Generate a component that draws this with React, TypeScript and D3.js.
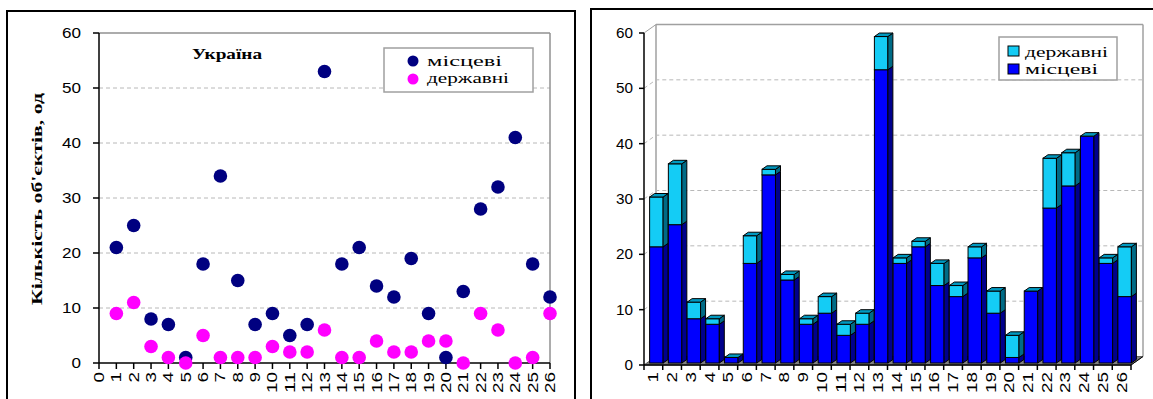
import React from "react";
import * as d3 from "d3";

const categories = Array.from({ length: 26 }, (_, i) => String(i + 1));
const localVals = [21, 25, 8, 7, 1, 18, 34, 15, 7, 9, 5, 7, 53, 18, 21, 14, 12, 19, 9, 1, 13, 28, 32, 41, 18, 12];
const stateVals = [9, 11, 3, 1, 0, 5, 1, 1, 1, 3, 2, 2, 6, 1, 1, 4, 2, 2, 4, 4, 0, 9, 6, 0, 1, 9];
const yTicks = [0, 10, 20, 30, 40, 50, 60];
const xTicksLeft = d3.range(0, 27);
const seriesLocal = "місцеві";
const seriesState = "державні";
const leftTitle = "Україна";
const yTitle = "Кількість об'єктів, од";

const SERIF = "'Liberation Serif', 'DejaVu Serif', serif";
const SANS = "'Liberation Sans', Arial, sans-serif";

function LeftChart() {
  const x = d3.scaleLinear().domain([0, 26]).range([99, 550]);
  const y = d3.scaleLinear().domain([0, 60]).range([363, 33]);
  return (
    <g>
      <rect x={7} y={11} width={568} height={400} fill="#fff" stroke="#000" strokeWidth={2} />
      {yTicks.filter((t) => t > 0 && t < 60).map((t) => (
        <line key={t} x1={x(0)} x2={x(26)} y1={y(t)} y2={y(t)} stroke="#b8b8b8" strokeDasharray="4,3" />
      ))}
      <line x1={x(0)} x2={x(26)} y1={y(60)} y2={y(60)} stroke="#909090" strokeWidth={1.5} />
      <line x1={x(26)} x2={x(26)} y1={y(60)} y2={y(0)} stroke="#909090" strokeWidth={1.5} />
      <line x1={x(0)} x2={x(0)} y1={y(60)} y2={y(0)} stroke="#000" strokeWidth={1.5} />
      <line x1={x(0)} x2={x(26)} y1={y(0)} y2={y(0)} stroke="#000" strokeWidth={1.5} />
      {yTicks.map((t) => (
        <g key={t}>
          <line x1={x(0) - 6} x2={x(0)} y1={y(t)} y2={y(t)} stroke="#000" strokeWidth={1.5} />
          <text x={81} y={y(t) + 5} textAnchor="end" fontFamily={SANS} fontSize={14}
            textLength={String(t).length * 9.5} lengthAdjust="spacingAndGlyphs" fill="#000">{t}</text>
        </g>
      ))}
      {xTicksLeft.map((t) => (
        <g key={t}>
          <line x1={x(t)} x2={x(t)} y1={y(0)} y2={y(0) + 6} stroke="#000" strokeWidth={1.5} />
          <text transform={`translate(${x(t) + 5},372) rotate(-90)`} textAnchor="end" fontFamily={SANS}
            fontSize={14} textLength={String(t).length * 10.5} lengthAdjust="spacingAndGlyphs" fill="#000">{t}</text>
        </g>
      ))}
      <text transform="translate(42,199) rotate(-90)" textAnchor="middle" fontFamily={SERIF} fontWeight="bold"
        fontSize={15} textLength={212} lengthAdjust="spacingAndGlyphs" fill="#000">{yTitle}</text>
      <text x={192} y={59} fontFamily={SERIF} fontWeight="bold" fontSize={14} textLength={70}
        lengthAdjust="spacingAndGlyphs" fill="#000">{leftTitle}</text>
      {localVals.map((v, i) => (
        <circle key={"l" + i} cx={x(i + 1)} cy={y(v)} r={6.8} fill="#000080" />
      ))}
      {stateVals.map((v, i) => (
        <circle key={"s" + i} cx={x(i + 1)} cy={y(v)} r={6.8} fill="#ff00ff" />
      ))}
      <rect x={384} y={48} width={149} height={44} fill="#fff" stroke="#a0a0a0" strokeWidth={1.5} />
      <circle cx={413} cy={61} r={5.5} fill="#000080" />
      <circle cx={413} cy={79} r={5.5} fill="#ff00ff" />
      <text x={427} y={66} fontFamily={SERIF} fontSize={15} textLength={75} lengthAdjust="spacingAndGlyphs">{seriesLocal}</text>
      <text x={427} y={83} fontFamily={SERIF} fontSize={15} textLength={82} lengthAdjust="spacingAndGlyphs">{seriesState}</text>
    </g>
  );
}

function RightChart() {
  const x0 = 644, x1 = 1131;
  const DX = 12, DY = -8.5;
  const x = d3.scaleBand().domain(categories).range([x0, x1]).paddingInner(0.28).paddingOuter(0.14);
  const y = d3.scaleLinear().domain([0, 60]).range([365, 33]);
  const fo = { dx: 3, dy: -2 };
  const bd = { dx: 5, dy: -3.5 };
  const bw = x.bandwidth();

  const blue = { front: "#0000ff", side: "#00008c", top: "#0000c0" };
  const cyan = { front: "#14ccf5", side: "#006b86", top: "#0099c0" };

  const seg = (cx: number, v0: number, v1: number, c: any, key: string) => {
    const xl = cx + fo.dx, xr = xl + bw;
    const yb = y(v0) + fo.dy, yt = y(v1) + fo.dy;
    return (
      <g key={key}>
        <rect x={xl} y={yt} width={bw} height={Math.max(0, yb - yt)} fill={c.front} stroke="#000" strokeWidth={1} />
        <path d={`M${xr},${yb}L${xr + bd.dx},${yb + bd.dy}L${xr + bd.dx},${yt + bd.dy}L${xr},${yt}Z`} fill={c.side} stroke="#000" strokeWidth={1} />
      </g>
    );
  };

  return (
    <g>
      <rect x={591} y={9} width={600} height={400} fill="#fff" stroke="#000" strokeWidth={2} />
      <path d={`M${x0},${y(0)}L${x1},${y(0)}L${x1 + DX},${y(0) + DY}L${x0 + DX},${y(0) + DY}Z`} fill="#808080" stroke="#606060" />
      <line x1={x0 + DX} x2={x1 + DX} y1={y(60) + DY} y2={y(60) + DY} stroke="#a0a0a0" strokeWidth={1.5} />
      <line x1={x0 + DX} x2={x0 + DX} y1={y(60) + DY} y2={y(0) + DY} stroke="#a0a0a0" strokeWidth={1.5} />
      <line x1={x1 + DX} x2={x1 + DX} y1={y(60) + DY} y2={y(0) + DY} stroke="#a0a0a0" strokeWidth={1.5} />
      <line x1={x0} x2={x0 + DX} y1={y(60)} y2={y(60) + DY} stroke="#a0a0a0" strokeWidth={1} />
      {yTicks.filter((t) => t > 0 && t < 60).map((t) => (
        <path key={t} d={`M${x0},${y(t)}L${x0 + DX},${y(t) + DY}L${x1 + DX},${y(t) + DY}`} fill="none" stroke="#b8b8b8" strokeDasharray="4,3" />
      ))}
      {categories.map((c, i) => {
        const cx = x(c)!;
        const m = localVals[i], s = stateVals[i];
        const tot = m + s;
        const xl = cx + fo.dx, xr = xl + bw, yt = y(tot) + fo.dy;
        return (
          <g key={c}>
            {seg(cx, 0, m, blue, "b")}
            {s > 0 && seg(cx, m, tot, cyan, "c")}
            <path d={`M${xl},${yt}L${xr},${yt}L${xr + bd.dx},${yt + bd.dy}L${xl + bd.dx},${yt + bd.dy}Z`} fill={cyan.top} stroke="#000" strokeWidth={1} />
          </g>
        );
      })}
      <line x1={x0} x2={x0} y1={y(60)} y2={y(0)} stroke="#000" strokeWidth={1.5} />
      <line x1={x0} x2={x1} y1={y(0)} y2={y(0)} stroke="#000" strokeWidth={1.5} />
      <line x1={x1} x2={x1 + DX} y1={y(0)} y2={y(0) + DY} stroke="#000" strokeWidth={1} />
      {yTicks.map((t) => (
        <g key={t}>
          <line x1={x0 - 5} x2={x0} y1={y(t)} y2={y(t)} stroke="#000" strokeWidth={1.5} />
          <text x={633} y={y(t) + 5} textAnchor="end" fontFamily={SANS} fontSize={14}
            textLength={String(t).length * 8.5} lengthAdjust="spacingAndGlyphs">{t}</text>
        </g>
      ))}
      {d3.range(0, 27).map((i) => (
        <line key={"t" + i} x1={x0 + i * ((x1 - x0) / 26)} x2={x0 + i * ((x1 - x0) / 26)} y1={y(0)} y2={y(0) + 5} stroke="#000" strokeWidth={1.5} />
      ))}
      {categories.map((c) => (
        <text key={"l" + c} transform={`translate(${x(c)! + bw / 2 + 5},372) rotate(-90)`} textAnchor="end"
          fontFamily={SANS} fontSize={14} textLength={c.length * 10.5} lengthAdjust="spacingAndGlyphs">{c}</text>
      ))}
      <rect x={999} y={37} width={118} height={43} fill="#fff" stroke="#a0a0a0" strokeWidth={1.5} />
      <rect x={1008} y={46} width={11} height={10} fill={cyan.front} stroke="#000" />
      <rect x={1008} y={64} width={11} height={10} fill={blue.front} stroke="#000" />
      <text x={1025} y={57} fontFamily={SERIF} fontSize={15} textLength={83} lengthAdjust="spacingAndGlyphs">{seriesState}</text>
      <text x={1025} y={74} fontFamily={SERIF} fontSize={15} textLength={73} lengthAdjust="spacingAndGlyphs">{seriesLocal}</text>
    </g>
  );
}

export default function App() {
  return (
    <svg width={1153} height={399} style={{ position: "fixed", left: 0, top: 0, background: "#fff" }}>
      <rect width={1153} height={399} fill="#fff" />
      <LeftChart />
      <RightChart />
    </svg>
  );
}
